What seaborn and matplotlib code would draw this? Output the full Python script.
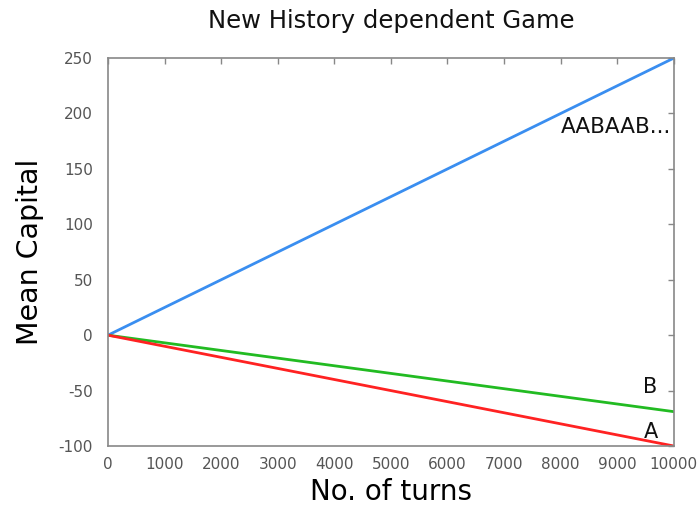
import numpy as np
import pandas as pd
import matplotlib
matplotlib.use("Agg")
import matplotlib.pyplot as plt
import seaborn as sns

# values
turns = [0, 2000, 4000, 6000, 8000, 10000]
capital_aab = [0, 50, 100, 150, 200, 250]
capital_b = [0, -13.8, -27.6, -41.4, -55.2, -69]
capital_a = [0, -20, -40, -60, -80, -100]

x_ticks = [0, 1000, 2000, 3000, 4000, 5000, 6000, 7000, 8000, 9000, 10000]
y_ticks = [-100, -50, 0, 50, 100, 150, 200, 250]

df = pd.DataFrame({
    "turns": turns * 3,
    "capital": capital_aab + capital_b + capital_a,
    "game": ["AABAAB..."] * 6 + ["B"] * 6 + ["A"] * 6,
})

sns.set_style("white")
plt.rcParams["font.family"] = ["DejaVu Sans"]
plt.rcParams["axes.unicode_minus"] = False

fig = plt.figure(figsize=(6.99, 5.05), dpi=100)
ax = fig.add_axes([0.1545, 0.1168, 0.8095, 0.7682])

palette = {"AABAAB...": "#3a8ef0", "B": "#22bb22", "A": "#ff2222"}
sns.lineplot(data=df, x="turns", y="capital", hue="game", palette=palette,
             linewidth=2, legend=False, ax=ax)

ax.set_xlim(0, 10000)
ax.set_ylim(-100, 250)
ax.set_xticks(x_ticks)
ax.set_yticks(y_ticks)
ax.tick_params(direction="in", top=True, right=True, length=4, width=1,
               colors="#888888", labelcolor="#555555", labelsize=11)
ax.tick_params(axis="x", pad=8)
ax.tick_params(axis="y", pad=11)
for s in ax.spines.values():
    s.set_color("#888888")
    s.set_linewidth(1.2)

ax.set_xlabel("No. of turns", fontsize=20, color="black", labelpad=4)
ax.set_ylabel("Mean Capital", fontsize=20.5, color="black", labelpad=10)
ax.set_title("New History dependent Game", fontsize=17.5, pad=22, color="#111111")

ax.text(9960, 188, "AABAAB...", ha="right", va="center", fontsize=15.5, color="#111111")
ax.text(9580, -47, "B", ha="center", va="center", fontsize=15, color="#111111")
ax.text(9600, -87.5, "A", ha="center", va="center", fontsize=15, color="#111111")

fig.savefig("out.png", dpi=100)
